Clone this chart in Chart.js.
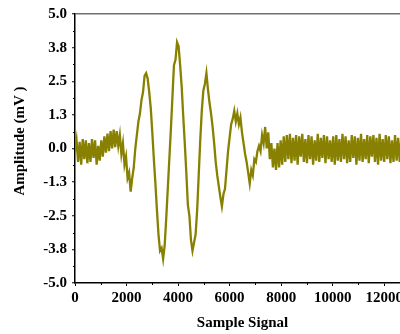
<!DOCTYPE html>
<html>
<head>
<meta charset="utf-8">
<script src="https://cdn.jsdelivr.net/npm/chart.js@4"></script>
<style>
  html, body { margin: 0; padding: 0; background: #fff; overflow: hidden; }
</style>
</head>
<body>
<canvas id="myChart" width="420" height="334"></canvas>
<script>
// one reading every 60 samples
var SAMPLE_STEP = 60;

var AMPLITUDE = [
  // quiet start
  -0.1, 0.3, -0.5, 0.25, -0.6, 0.35, -0.4, 0.3, -0.55, 0.2,
  -0.5, 0.35, -0.35, 0.3, -0.6, 0.1, -0.45,
  // small bump
  0.3, -0.3, 0.45, -0.15, 0.55, -0.1, 0.65, 0.0, 0.7, 0.05, 0.65, 0.1,
  // first dip
  0.5, -0.2, 0.2, -0.6, -0.3, -1.1, -0.9, -1.6,
  // rise to first peak
  -1.1, -0.7, 0.0, 0.5, 1.0, 1.3, 1.8, 2.1, 2.7, 2.8,
  // down to main trough
  2.6, 2.1, 1.5, 0.6, -0.4, -1.3, -2.3, -3.2, -3.8, -3.7, -4.1, -3.6,
  // main peak
  -2.6, -1.5, -0.4, 0.7, 1.9, 3.1, 3.3, 3.95, 3.8, 3.1, 2.3,
  1.2, 0.2, -0.9, -2.1, -2.5, -3.4, -3.8, -3.5,
  // third peak
  -3.2, -2.3, -1.0, 0.3, 1.4, 2.15, 2.4, 2.8, 2.2, 1.7,
  1.3, 0.8, 0.2, -0.5, -1.0, -1.4, -1.8, -2.15,
  // decaying swings
  -1.7, -1.5, -0.8, -0.1, 0.4, 0.9, 1.1, 1.4, 1.0, 1.3, 0.9, 1.15,
  0.6, 0.2, -0.2, -0.5, -0.9, -1.3,
  -0.8, -1.0, -0.4, -0.5, -0.1, 0.1, -0.1, 0.5, 0.2, 0.8,
  0.0, 0.6, -0.4, 0.2, -0.7, 0.0, -0.8, 0.2, -0.7, 0.3, -0.6, 0.45,
  // noisy tail
  -0.5, 0.5, -0.4, 0.55, -0.55, 0.4, -0.45, 0.5, -0.6, 0.45,
  -0.3, 0.55, -0.5, 0.35, -0.55, 0.5, -0.4, 0.45, -0.6, 0.3,
  -0.45, 0.55, -0.5, 0.4, -0.35, 0.5, -0.55, 0.45, -0.4, 0.3,
  -0.5, 0.45, -0.6, 0.5, -0.45, 0.35, -0.5, 0.55, -0.4, 0.45,
  -0.55, 0.3, -0.5, 0.5, -0.35, 0.45, -0.6, 0.4, -0.45, 0.55,
  -0.5, 0.35, -0.4, 0.5, -0.55, 0.45, -0.3, 0.5, -0.5, 0.4,
  -0.6, 0.55, -0.45, 0.35, -0.5, 0.5, -0.4, 0.45, -0.55, 0.3,
  -0.5, 0.5, -0.45, 0.4, -0.5, 0.35
];

var X_TICKS = [0, 2000, 4000, 6000, 8000, 10000, 12000];
var X_MINOR = [1000, 3000, 5000, 7000, 9000, 11000];
var Y_TICKS = [-5, -3.75, -2.5, -1.25, 0, 1.25, 2.5, 3.75, 5];
var Y_MINOR = [-4.375, -3.125, -1.875, -0.625, 0.625, 1.875, 3.125, 4.375];

var points = AMPLITUDE.map(function (v, i) {
  return { x: i * SAMPLE_STEP, y: v };
});

var serif = "'Liberation Serif', 'Times New Roman', serif";

// short minor tick marks between the labelled ones
var minorTicks = {
  id: 'minorTicks',
  afterDraw: function (chart) {
    var c = chart.ctx;
    var xs = chart.scales.x, ys = chart.scales.y;
    c.save();
    c.strokeStyle = '#000';
    c.lineWidth = 1;
    c.beginPath();
    Y_MINOR.forEach(function (v) {
      var py = Math.round(ys.getPixelForValue(v)) + 0.5;
      c.moveTo(ys.right - 2, py);
      c.lineTo(ys.right, py);
    });
    X_MINOR.forEach(function (v) {
      var px = Math.round(xs.getPixelForValue(v)) + 0.5;
      c.moveTo(px, xs.top);
      c.lineTo(px, xs.top + 2);
    });
    c.stroke();
    c.restore();
  }
};

const ctx = document.getElementById('myChart');
new Chart(ctx, {
  type: 'line',
  data: {
    datasets: [{
      data: points,
      borderColor: '#878000',
      borderWidth: 2.3,
      pointRadius: 0,
      tension: 0,
      fill: false
    }]
  },
  options: {
    responsive: false,
    animation: false,
    layout: { padding: { top: 13, right: 10, left: 0, bottom: 0 } },
    plugins: {
      legend: { display: false },
      tooltip: { enabled: false }
    },
    scales: {
      x: {
        type: 'linear',
        min: 0,
        max: 13000,
        afterFit: function (s) { s.height = 51; },
        afterBuildTicks: function (s) {
          s.ticks = X_TICKS.map(function (v) { return { value: v }; });
        },
        border: { color: '#000', width: 1.5 },
        grid: {
          drawOnChartArea: false,
          tickLength: 3,
          tickColor: '#000',
          tickWidth: 1
        },
        ticks: {
          color: '#000',
          padding: 3,
          maxRotation: 0,
          autoSkip: false,
          font: { family: serif, size: 15, weight: 'bold' },
          callback: function (v) { return String(v); }
        },
        title: {
          display: true,
          text: 'Sample Signal',
          color: '#000',
          padding: { top: 0, bottom: 2 },
          font: { family: serif, size: 15, weight: 'bold' }
        }
      },
      y: {
        min: -5,
        max: 5,
        afterFit: function (s) { s.width = 75; },
        afterBuildTicks: function (s) {
          s.ticks = Y_TICKS.map(function (v) { return { value: v }; });
        },
        border: { color: '#000', width: 1.5 },
        grid: {
          drawOnChartArea: true,
          color: function (c) {
            return c.tick && c.tick.value === 5 ? '#707070' : 'rgba(0,0,0,0)';
          },
          lineWidth: 1.5,
          tickLength: 3,
          tickColor: '#000',
          tickWidth: 1
        },
        ticks: {
          color: '#000',
          padding: 5,
          autoSkip: false,
          font: { family: serif, size: 15, weight: 'bold' },
          callback: function (v) { return Number(v).toFixed(1); }
        },
        title: {
          display: true,
          text: '    Amplitude (mV )',
          color: '#000',
          padding: { top: 11, bottom: 0 },
          font: { family: serif, size: 15, weight: 'bold' }
        }
      }
    }
  },
  plugins: [minorTicks]
});
</script>
</body>
</html>
